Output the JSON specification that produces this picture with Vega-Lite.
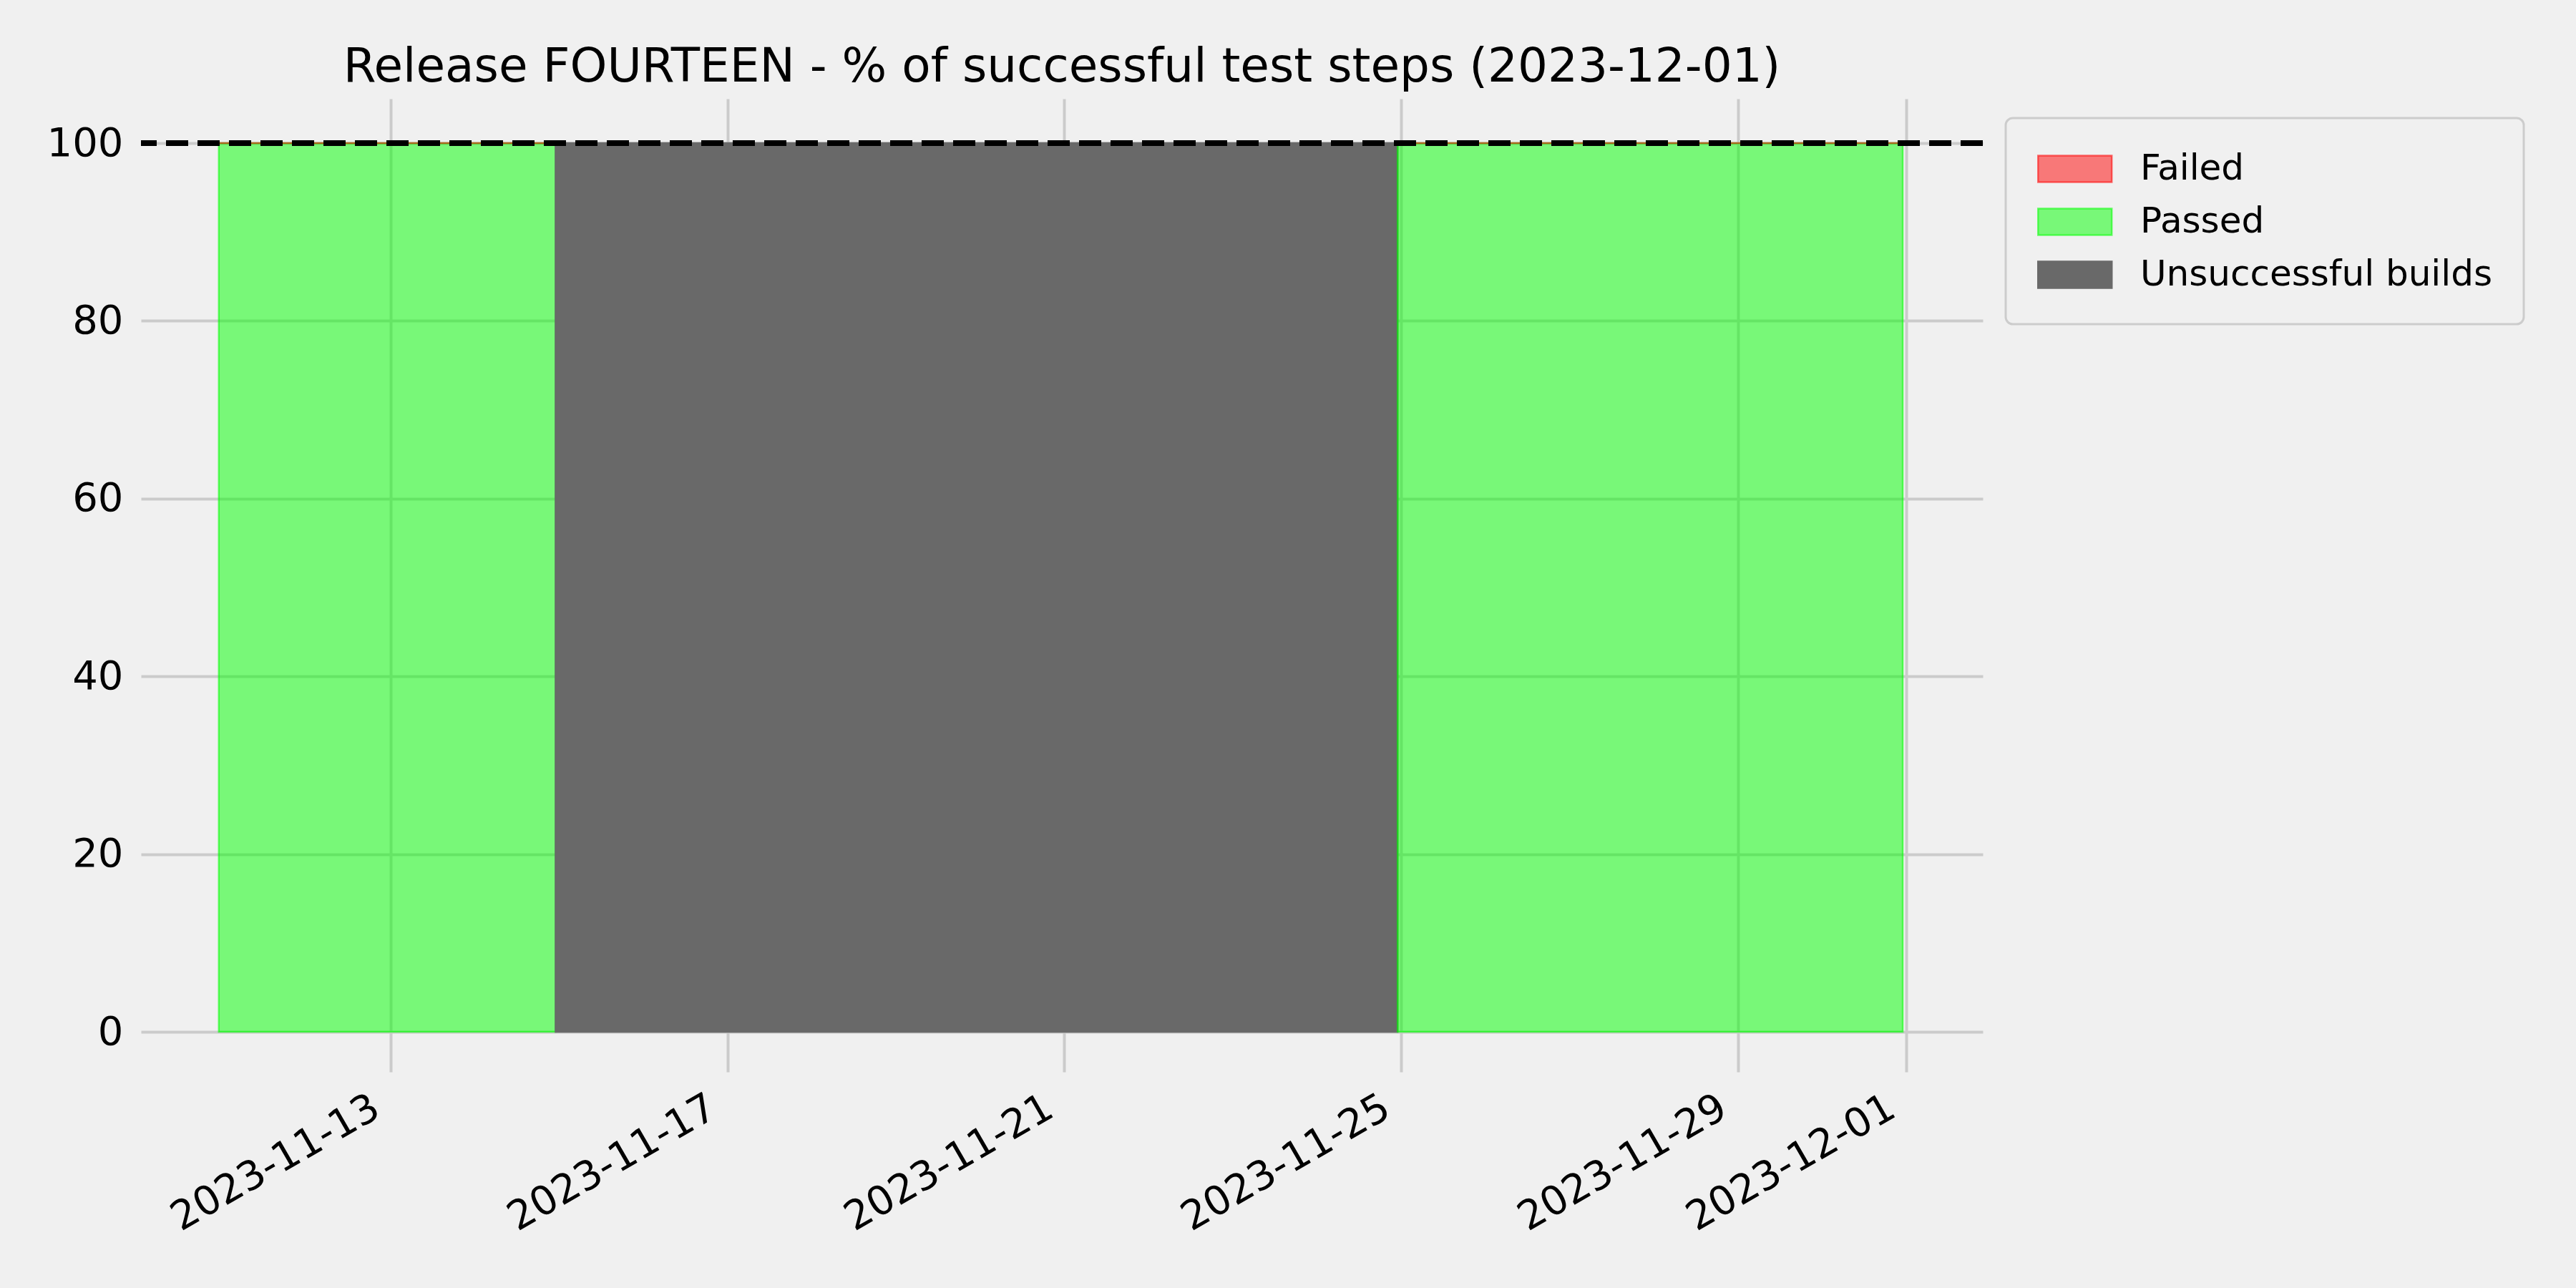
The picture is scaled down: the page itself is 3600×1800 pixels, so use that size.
{
  "$schema": "https://vega.github.io/schema/vega-lite/v6.json",
  "width": 2574,
  "height": 1304,
  "autosize": {"type": "none"},
  "padding": {"left": 197, "top": 138, "right": 829, "bottom": 358},
  "background": "#F0F0F0",
  "title": {
    "text": "Release FOURTEEN - % of successful test steps (2023-12-01)",
    "fontSize": 66,
    "font": "DejaVu Sans",
    "fontWeight": "normal",
    "color": "black",
    "frame": "group",
    "anchor": "middle",
    "baseline": "alphabetic",
    "offset": -42
  },
  "config": {
    "view": {"stroke": null, "fill": "#F0F0F0"},
    "legend": {"strokeWidth": 3}
  },
  "layer": [
    {
      "data": {
        "values": [
          {"start": "2023-11-10T23:00:00Z", "end": "2023-11-14T23:00:00Z", "status": "Passed", "pct": 100},
          {"start": "2023-11-10T23:00:00Z", "end": "2023-11-14T23:00:00Z", "status": "Failed", "pct": 0},
          {"start": "2023-11-14T23:00:00Z", "end": "2023-11-24T23:00:00Z", "status": "Unsuccessful builds", "pct": 100},
          {"start": "2023-11-24T23:00:00Z", "end": "2023-11-30T23:00:00Z", "status": "Passed", "pct": 100},
          {"start": "2023-11-24T23:00:00Z", "end": "2023-11-30T23:00:00Z", "status": "Failed", "pct": 0}
        ]
      },
      "transform": [
        {"stack": "pct", "groupby": ["start"], "sort": [{"field": "status", "order": "descending"}], "as": ["pct_lo", "pct_hi"]}
      ],
      "mark": {"type": "bar", "strokeWidth": 2.5},
      "encoding": {
        "x": {
          "field": "start",
          "type": "temporal",
          "scale": {
            "type": "utc",
            "domain": [
              {"year": 2023, "month": 11, "date": 10, "hours": 0, "minutes": 49, "utc": true},
              {"year": 2023, "month": 12, "date": 1, "hours": 21, "minutes": 49, "utc": true}
            ]
          },
          "axis": {
            "title": null,
            "values": [
              {"year": 2023, "month": 11, "date": 13, "utc": true},
              {"year": 2023, "month": 11, "date": 17, "utc": true},
              {"year": 2023, "month": 11, "date": 21, "utc": true},
              {"year": 2023, "month": 11, "date": 25, "utc": true},
              {"year": 2023, "month": 11, "date": 29, "utc": true},
              {"year": 2023, "month": 12, "date": 1, "utc": true}
            ],
            "format": "%Y-%m-%d",
            "labelAngle": -30,
            "labelAlign": "right",
            "labelBaseline": "top",
            "labelFontSize": 56,
            "labelFont": "DejaVu Sans",
            "labelColor": "black",
            "labelPadding": 22,
            "labelOffset": -34,
            "labelLimit": 2000,
            "labelOverlap": false,
            "labelFlush": false,
            "domain": false,
            "ticks": true,
            "tickSize": 56,
            "tickColor": "#CBCBCB",
            "tickWidth": 4,
            "grid": true,
            "gridColor": "#CBCBCB",
            "gridWidth": 4
          }
        },
        "x2": {"field": "end"},
        "y": {
          "field": "pct_lo",
          "type": "quantitative",
          "scale": {"domain": [0, 105], "nice": false},
          "axis": {
            "title": null,
            "values": [0, 20, 40, 60, 80, 100],
            "labelFontSize": 56,
            "labelFont": "DejaVu Sans",
            "labelColor": "black",
            "labelPadding": 25,
            "domain": false,
            "ticks": false,
            "grid": true,
            "gridColor": "#CBCBCB",
            "gridWidth": 4
          }
        },
        "y2": {"field": "pct_hi"},
        "fill": {
          "field": "status",
          "type": "nominal",
          "scale": {
            "domain": ["Failed", "Passed", "Unsuccessful builds"],
            "range": ["rgba(255,0,0,0.5)", "rgba(0,255,0,0.5)", "#696969"]
          },
          "legend": {
            "orient": "none",
            "legendX": 2606,
            "legendY": 27,
            "title": null,
            "labelFontSize": 50,
            "labelFont": "DejaVu Sans",
            "labelColor": "black",
            "labelLimit": 2000,
            "symbolType": "M-1,-0.72H3V0.72H-1Z",
            "symbolSize": 2652,
            "symbolStrokeWidth": 2.5,
            "labelOffset": 90,
            "rowPadding": 22,
            "padding": 44,
            "fillColor": "#F0F0F0",
            "strokeColor": "#CCCCCC",
            "cornerRadius": 10
          }
        },
        "stroke": {
          "field": "status",
          "type": "nominal",
          "scale": {
            "domain": ["Failed", "Passed", "Unsuccessful builds"],
            "range": ["rgba(255,0,0,0.55)", "rgba(0,255,0,0.55)", "#696969"]
          }
        }
      }
    },
    {
      "data": {"values": [{"target": 100}]},
      "mark": {"type": "rule", "color": "black", "strokeWidth": 8, "strokeDash": [31, 13]},
      "encoding": {"y": {"field": "target", "type": "quantitative"}}
    }
  ]
}
